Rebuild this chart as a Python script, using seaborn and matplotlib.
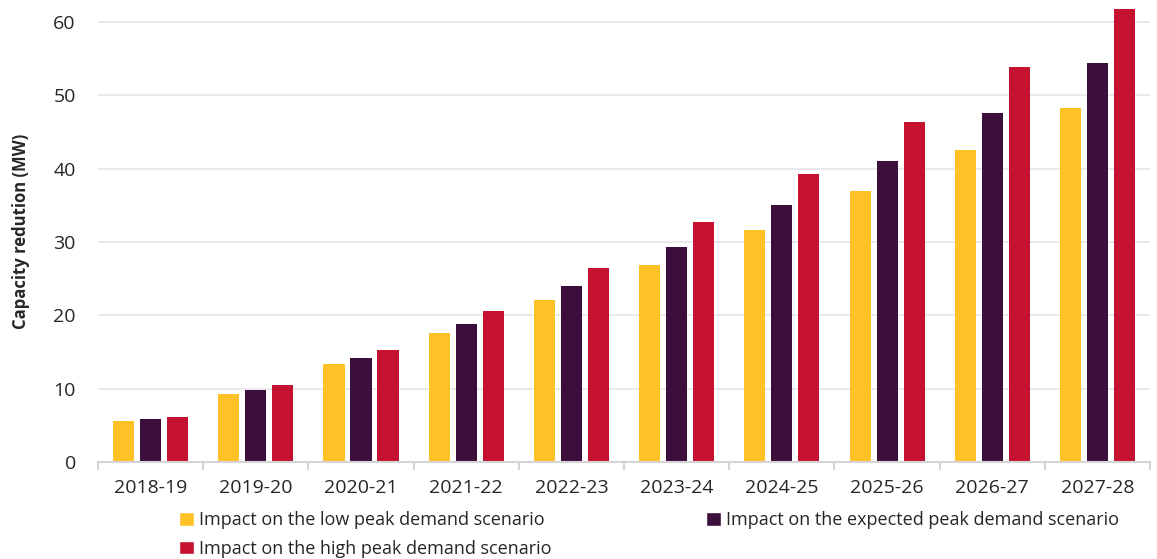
import matplotlib
matplotlib.use("Agg")
import matplotlib.pyplot as plt
import seaborn as sns
import pandas as pd
import numpy as np
from matplotlib.patches import Patch

years = ["2018-19", "2019-20", "2020-21", "2021-22", "2022-23",
         "2023-24", "2024-25", "2025-26", "2026-27", "2027-28"]
low = [5.6, 9.3, 13.4, 17.6, 22.1, 26.9, 31.7, 37.0, 42.6, 48.3]
expected = [5.9, 9.8, 14.2, 18.8, 24.0, 29.3, 35.1, 41.1, 47.6, 54.4]
high = [6.1, 10.5, 15.3, 20.6, 26.5, 32.7, 39.3, 46.4, 53.9, 61.8]
series_names = ["Impact on the low peak demand scenario",
                "Impact on the expected peak demand scenario",
                "Impact on the high peak demand scenario"]
colors = ["#FEC126", "#3B0E3C", "#C41230"]

df = pd.DataFrame({
    "year": years * 3,
    "value": low + expected + high,
    "series": [series_names[0]] * 10 + [series_names[1]] * 10 + [series_names[2]] * 10,
})

sns.set_theme(style="white")
plt.rcParams["font.family"] = ["Open Sans", "DejaVu Sans"]

fig = plt.figure(figsize=(11.57, 5.59), dpi=100)
ax = fig.add_axes([0.0847, 0.1735, 0.9093, 0.8265])

sns.barplot(data=df, x="year", y="value", hue="series", hue_order=series_names,
            palette=colors, width=0.77, ax=ax, legend=False, edgecolor="none",
            saturation=1)

# shrink bars to leave white gap
for p in ax.patches:
    w = p.get_width()
    nw = w * 0.78
    p.set_x(p.get_x() + (w - nw) / 2)
    p.set_width(nw)

ax.set_ylim(0, 63)
ax.set_xlim(-0.5, 9.5)
ax.set_yticks([0, 10, 20, 30, 40, 50, 60])
ax.yaxis.grid(True, color="#E6E6E9", linewidth=1.2)
ax.set_axisbelow(True)
for s in ["left", "top", "right"]:
    ax.spines[s].set_visible(False)
ax.spines["bottom"].set_color("#D4D4D4")
ax.spines["bottom"].set_linewidth(1.5)

ax.set_xticks(np.arange(-0.5, 10.0, 1.0), minor=True)
ax.tick_params(axis="x", which="minor", length=6, color="#D4D4D4", width=1.5, bottom=True)
ax.tick_params(axis="x", which="major", length=0, pad=12, labelsize=14, labelcolor="#262626")
ax.tick_params(axis="y", length=0, pad=16, labelsize=14, labelcolor="#262626")

ax.set_xlabel("")
ax.set_ylabel("Capacity redution (MW)", fontsize=12, fontweight="bold", color="#262626", labelpad=17)

handles = [Patch(facecolor=colors[0]), Patch(facecolor=colors[2]), Patch(facecolor=colors[1])]
labels = [series_names[0], series_names[2], series_names[1]]
fig.legend(handles, labels, ncol=2, loc="lower left", bbox_to_anchor=(0.141, -0.027),
           frameon=False, fontsize=13, handlelength=0.8, handleheight=0.8,
           handletextpad=0.3, columnspacing=8.55, labelspacing=0.6,
           labelcolor="#262626")

fig.savefig("out.png", dpi=100)
